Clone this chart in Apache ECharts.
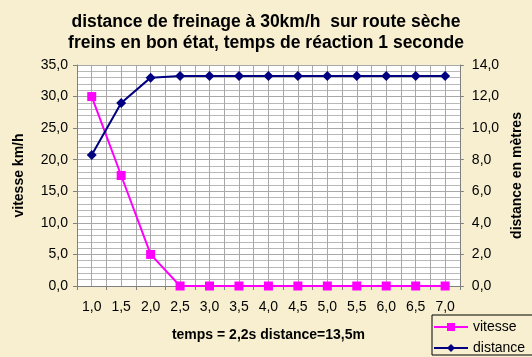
<!DOCTYPE html>
<html><head><meta charset="utf-8">
<script src="https://cdn.jsdelivr.net/npm/echarts@6/dist/echarts.min.js"></script>
<style>html,body{margin:0;padding:0;background:#F7EFD0;}#c{width:532px;height:357px;}</style>
</head><body><div id="c"></div>
<script>
const categories = ['1,0','1,5','2,0','2,5','3,0','3,5','4,0','4,5','5,0','5,5','6,0','6,5','7,0'];
const vitesse = [30, 17.5, 5, 0, 0, 0, 0, 0, 0, 0, 0, 0, 0];
const distance = [8.3, 11.6, 13.2, 13.3, 13.3, 13.3, 13.3, 13.3, 13.3, 13.3, 13.3, 13.3, 13.3];
const fmt = v => v.toFixed(1).replace('.', ',');
const font = 'Liberation Sans, Arial, sans-serif';
const chart = echarts.init(document.getElementById('c'));
chart.setOption({
  backgroundColor: '#F7EFD0',
  animation: false,
  textStyle: {fontFamily: font},
  title: {
    text: 'distance de freinage à 30km/h  sur route sèche\nfreins en bon état, temps de réaction 1 seconde',
    left: 'center', top: 7,
    textStyle: {fontFamily: font, fontSize: 17.5, fontWeight: 'bold', color: '#000', lineHeight: 21}
  },
  grid: {left: 77, right: 70, top: 65, bottom: 71, backgroundColor: '#fff', show: true, borderWidth: 0},
  legend: {
    orient: 'vertical', left: 432, top: 315,
    borderColor: '#000', borderWidth: 1, padding: [5, 30, 0, 1], itemGap: 7,
    itemWidth: 34, itemHeight: 10,
    textStyle: {fontFamily: font, fontSize: 14, color: '#000'},
    data: ['vitesse', 'distance']
  },
  xAxis: [{
    type: 'category', data: categories, boundaryGap: true,
    name: 'temps = 2,2s distance=13,5m', nameLocation: 'middle', nameGap: 42,
    nameTextStyle: {fontFamily: font, fontSize: 14, fontWeight: 'bold', color: '#000'},
    axisLine: {lineStyle: {color: '#808080'}},
    axisTick: {show: true, alignWithLabel: false, length: 4, lineStyle: {color: '#808080'}},
    axisLabel: {fontFamily: font, fontSize: 14, color: '#000', margin: 14},
    splitLine: {show: false}
  }, {
    type: 'value', min: 0, max: 26, interval: 1, show: true, position: 'top',
    axisLine: {show: false}, axisTick: {show: false}, axisLabel: {show: false},
    splitLine: {show: true, lineStyle: {color: '#A8A8A8', width: 1}}
  }],
  yAxis: [{
    type: 'value', min: 0, max: 35, interval: 5,
    name: 'vitesse km/h', nameLocation: 'middle', nameGap: 51, nameRotate: 90,
    nameTextStyle: {fontFamily: font, fontSize: 14, fontWeight: 'bold', color: '#000'},
    axisLine: {show: true, lineStyle: {color: '#808080'}},
    axisTick: {show: true, length: 4, lineStyle: {color: '#808080'}},
    axisLabel: {fontFamily: font, fontSize: 14, color: '#000', formatter: fmt, margin: 9},
    splitLine: {show: true, lineStyle: {color: '#A8A8A8'}},
    minorSplitLine: {show: true, lineStyle: {color: '#B8B8B8'}},
    minorTick: {show: false, splitNumber: 5}
  }, {
    type: 'value', min: 0, max: 14, interval: 2, position: 'right',
    name: 'distance en mètres', nameLocation: 'middle', nameGap: 50, nameRotate: 90,
    nameTextStyle: {fontFamily: font, fontSize: 14, fontWeight: 'bold', color: '#000'},
    axisLine: {show: true, lineStyle: {color: '#808080'}},
    axisTick: {show: true, length: 4, lineStyle: {color: '#808080'}},
    axisLabel: {fontFamily: font, fontSize: 14, color: '#000', formatter: fmt, margin: 12},
    splitLine: {show: false}
  }],
  series: [{
    name: 'vitesse', type: 'line', data: vitesse, yAxisIndex: 0, xAxisIndex: 0,
    symbol: 'rect', symbolSize: 9, showSymbol: true,
    lineStyle: {color: '#FF00FF', width: 2}, itemStyle: {color: '#FF00FF'}
  }, {
    name: 'distance', type: 'line', data: distance, yAxisIndex: 1, xAxisIndex: 0,
    symbol: 'diamond', symbolSize: 10, showSymbol: true,
    lineStyle: {color: '#000080', width: 2}, itemStyle: {color: '#000080'}
  }]
});
</script></body></html>
